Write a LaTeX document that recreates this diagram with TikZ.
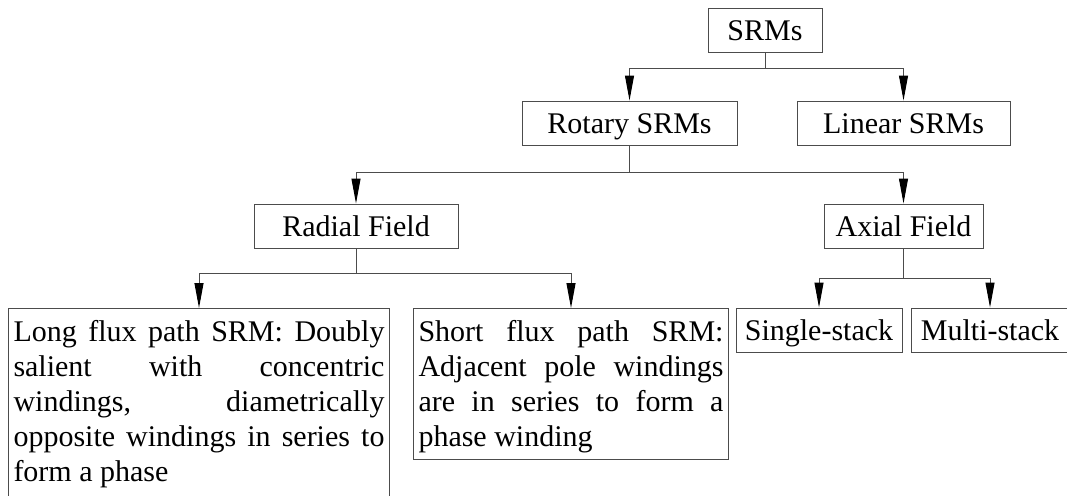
\documentclass[tikz,border=0pt]{standalone}
\usepackage{fontspec}
\setmainfont{Liberation Serif}
\usetikzlibrary{arrows.meta}

\begin{document}
\begin{tikzpicture}[x=1pt, y=-1pt,
    box/.style={draw=black!70, line width=1pt, rectangle, inner sep=0pt,
      minimum height=44pt, font=\fontsize{30}{35}\selectfont,
      text height=20pt, text depth=0pt},
    parbox/.style={draw=black!70, line width=1pt, rectangle, anchor=north west,
      inner xsep=5pt, inner ysep=0pt, align=justify,
      font=\fontsize{30}{35}\selectfont},
    link/.style={draw=black!70, line width=1pt,
      -{Triangle[length=25pt, width=9pt, fill=black, color=black]}}]

  % page frame; the rightmost and lowest boxes run off its edges
  \path[use as bounding box, clip] (0,0) rectangle (1067,495);

  % top levels
  \node[box, minimum width=114pt] (srms)   at (765,31)    {SRMs};
  \node[box, minimum width=215pt] (rotary) at (629.5,123) {Rotary SRMs};
  \node[box, minimum width=213pt] (linear) at (903.5,123) {Linear SRMs};
  \node[box, minimum width=204pt] (radial) at (356,226)   {Radial Field};
  \node[box, minimum width=159pt] (axial)  at (903.5,226) {Axial Field};

  % bottom level
  \node[box, minimum width=166pt] (single) at (819,330)   {Single-stack};
  \node[box, minimum width=158pt] (multi)  at (990,330)   {Multi-stack};

  \node[parbox, text width=371pt] (long) at (8,308)
    {\rule{0pt}{33pt}Long flux path SRM: Doubly\linebreak
     salient with concentric\linebreak
     windings, diametrically\linebreak
     opposite windings in series to\linebreak
     form a phase\rule[-22pt]{0pt}{22pt}};

  \node[parbox, text width=305pt] (short) at (413,308)
    {\rule{0pt}{33pt}Short flux path SRM:\linebreak
     Adjacent pole windings\linebreak
     are in series to form a\linebreak
     phase winding\rule[-13pt]{0pt}{13pt}};

  % branch levels
  \coordinate (l1) at (0,68);
  \coordinate (l2) at (0,172);
  \coordinate (l3) at (0,273);
  \coordinate (l4) at (0,278);

  \draw[link] (srms.south) -- (srms.south |- l1) -| (rotary.north);
  \draw[link] (srms.south) -- (srms.south |- l1) -| (linear.north);

  \draw[link] (rotary.south) -- (rotary.south |- l2) -| (radial.north);
  \draw[link] (rotary.south) -- (rotary.south |- l2) -| (axial.north);

  \draw[link] (radial.south) -- (radial.south |- l3) -| (long.north);
  \draw[link] (radial.south) -- (radial.south |- l3) -| (short.north);

  \draw[link] (axial.south) -- (axial.south |- l4) -| (single.north);
  \draw[link] (axial.south) -- (axial.south |- l4) -| (multi.north);
\end{tikzpicture}
\end{document}
